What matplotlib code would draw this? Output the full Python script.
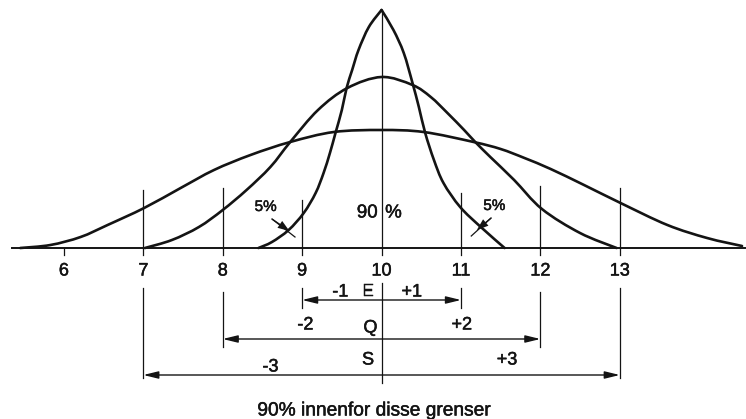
import matplotlib.pyplot as plt
import matplotlib.patheffects as pe
from matplotlib.path import Path
from matplotlib.patches import PathPatch

plt.rcParams['font.family'] = ['Liberation Sans', 'DejaVu Sans']

# three distributions around the nominal value 10 (x = value, y = curve height)
# E has a pointed top, so it is kept as two branches meeting at the peak
E_left_x = [8.45, 8.62, 8.83, 9.02, 9.17, 9.27, 9.35, 9.42, 9.50, 9.56, 9.63, 9.71, 9.84, 10.0]
E_left_y = [0, 6, 18, 35, 55, 75, 95, 115, 138, 160, 178, 198, 221, 238]
E_right_x = [10.0, 10.15, 10.28, 10.39, 10.47, 10.55, 10.66, 10.78, 10.99, 11.25, 11.55]
E_right_y = [238, 218, 195, 165, 141, 115, 88, 65, 41, 21, 0]

Q_x = [7.02, 7.36, 7.70, 8.0, 8.3, 8.6, 8.85, 9.2, 9.57, 10.0,
       10.39, 10.62, 10.83, 11.04, 11.18, 11.37, 11.67, 12.02, 12.5, 12.96]
Q_y = [0, 8, 21, 38, 58, 81, 106, 138, 160, 171,
       163, 151, 135, 118, 106, 91, 68, 39, 15, 0]

S_x = [5.45, 5.83, 6.21, 6.55, 7.01, 7.47, 7.89, 8.35, 8.85, 9.40, 10.0,
       10.53, 11.16, 11.5, 11.8, 12.13, 12.55, 13.01, 13.6, 14.1, 14.54]
S_y = [0, 3, 11, 23, 40, 60, 78, 93, 106, 116, 118,
       116, 106, 99, 90, 79, 63, 45, 23, 10, 2]

ticks = [6, 7, 8, 9, 10, 11, 12, 13]
names = ['E', 'Q', 'S']
spreads = [1, 2, 3]
centre = 10

ink = '#141414'
heavy = [pe.withStroke(linewidth=0.35, foreground=ink)]


def smooth_path(xs, ys):
    """Catmull-Rom curve through the points, as cubic Bezier segments."""
    pts = list(zip(xs, ys))
    verts = [pts[0]]
    codes = [Path.MOVETO]
    for i in range(len(pts) - 1):
        p0 = pts[i - 1] if i > 0 else pts[i]
        p1, p2 = pts[i], pts[i + 1]
        p3 = pts[i + 2] if i + 2 < len(pts) else p2
        c1 = (p1[0] + (p2[0] - p0[0]) / 6, p1[1] + (p2[1] - p0[1]) / 6)
        c2 = (p2[0] - (p3[0] - p1[0]) / 6, p2[1] - (p3[1] - p1[1]) / 6)
        verts += [c1, c2, p2]
        codes += [Path.CURVE4] * 3
    return Path(verts, codes)


def label(x, y, s, size):
    ax.text(x, y, s, ha='center', va='center', fontsize=size, color=ink,
            path_effects=heavy)


fig = plt.figure(figsize=(7.46, 4.19), dpi=100)
ax = fig.add_axes([0, 0, 1, 1])
ax.set_xlim(5.195, 14.59)
ax.set_ylim(-171, 248)
ax.axis('off')

# baseline and small ticks
ax.plot([5.35, 14.58], [0, 0], color=ink, lw=1.4)
for t in ticks:
    ax.plot([t, t], [0, -7], color=ink, lw=0.9)
    label(t, -23, str(t), 13)

# curves
for xs, ys in [(S_x, S_y), (Q_x, Q_y), (E_left_x, E_left_y), (E_right_x, E_right_y)]:
    ax.add_patch(PathPatch(smooth_path(xs, ys), fill=False, edgecolor=ink, lw=1.9,
                           capstyle='round', joinstyle='miter'))

# limit lines above the baseline
ax.plot([centre, centre], [0, max(E_left_y)], color=ink, lw=0.9)
upper_top = {1: (48, 55), 2: (60, 62), 3: (58, 60)}
for s in spreads:
    lo, hi = upper_top[s]
    ax.plot([centre - s] * 2, [0, lo], color=ink, lw=0.9)
    ax.plot([centre + s] * 2, [0, hi], color=ink, lw=0.9)

# percentages in the E curve
label(9.82, 35, '90', 13.5)
label(10.15, 35, '%', 13.5)
label(8.54, 41, '5%', 11)
label(11.42, 42, '5%', 11)
head = 'Simple,head_length=0.7,head_width=0.5,tail_width=0.08'
for (x0, y0), (x1, y1), (x2, y2) in [((8.62, 29), (8.84, 17), (8.91, 11)),
                                     ((11.38, 30), (11.20, 18), (11.13, 12))]:
    ax.plot([x0, x2], [y0, y2], color=ink, lw=0.9)
    ax.annotate('', xy=(x1, y1), xytext=(x0, y0),
                arrowprops=dict(arrowstyle=head, color=ink, lw=0, mutation_scale=12,
                                shrinkA=0, shrinkB=0))

# span arrows below the axis
ax.plot([centre, centre], [-35, -135], color=ink, lw=0.9)
rows = {1: (-40, -60, -52), 2: (-44, -99, -91), 3: (-40, -130, -127)}
label_pos = {1: ((9.48, -44), (9.83, -44), (10.38, -44)),
             2: ((9.04, -77), (9.86, -80), (11.01, -77)),
             3: ((8.60, -119), (9.83, -112), (11.58, -112))}
for name, s in zip(names, spreads):
    top, bottom, ya = rows[s]
    ax.plot([centre - s] * 2, [top, bottom], color=ink, lw=0.9)
    ax.plot([centre + s] * 2, [top, bottom], color=ink, lw=0.9)
    ax.annotate('', xy=(centre - s, ya), xytext=(centre + s, ya),
                arrowprops=dict(arrowstyle='<|-|>,head_length=0.9,head_width=0.22',
                                color=ink, lw=1.0, mutation_scale=10,
                                shrinkA=0, shrinkB=0))
    (lx, ly), (nx, ny), (rx, ry) = label_pos[s]
    label(lx, ly, f'-{s}', 13)
    label(nx, ny, name, 13)
    label(rx, ry, f'+{s}', 13)

label(9.9, -163, '90% innenfor disse grenser', 13.8)

fig.savefig('out.png', dpi=100, facecolor='white')
